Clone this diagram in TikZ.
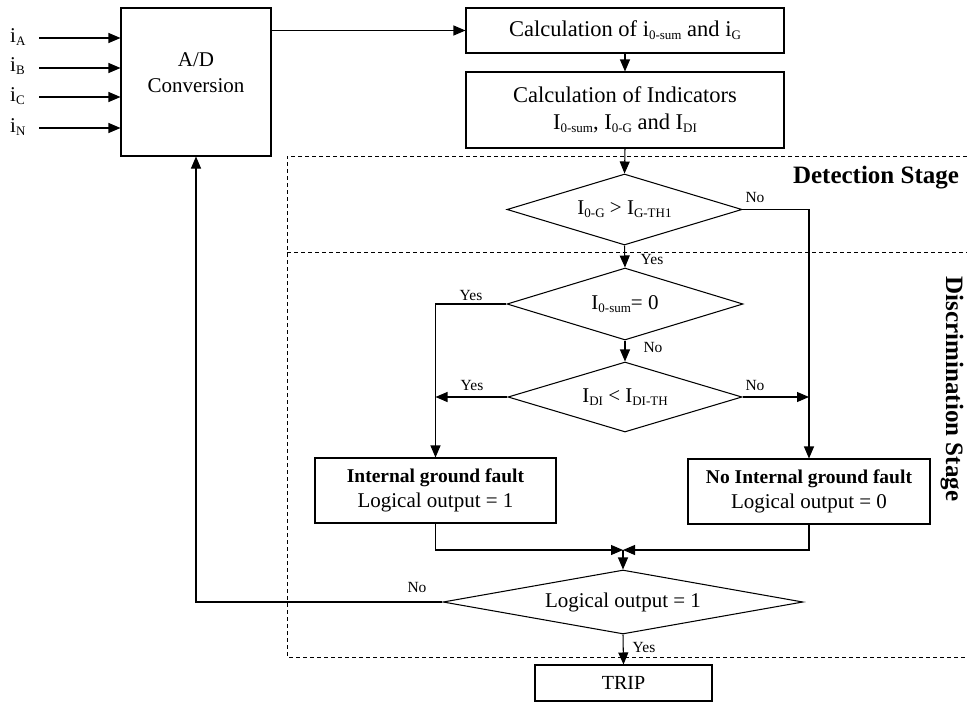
\documentclass[tikz,border=0pt]{standalone}
\usepackage{fontspec}
\setmainfont{Liberation Serif}
\usetikzlibrary{shapes.geometric,arrows.meta}
\newcommand{\sbs}[1]{\raisebox{-0.3ex}{\fontsize{13}{13}\selectfont #1}}
\begin{document}
\begin{tikzpicture}[x=1pt,y=-1pt,
  box/.style={draw,line width=1.05pt,inner sep=0pt,align=center,font=\fontsize{21}{26}\selectfont},
  txt/.style={inner sep=0pt,align=center,font=\fontsize{21}{26}\selectfont},
  dia/.style={diamond,draw,line width=1.05pt,inner sep=0pt,font=\fontsize{21}{26}\selectfont},
  arr/.style={line width=1.05pt,-{Triangle[length=12pt,width=10pt]}},
  lbl/.style={font=\fontsize{15.5}{18}\selectfont,inner sep=0pt},
  inp/.style={font=\fontsize{21}{24}\selectfont,inner sep=0pt,anchor=west},
  dsh/.style={line width=0.8pt,dash pattern=on 4pt off 3pt},
  stage/.style={font=\bfseries\fontsize{25}{30}\selectfont,inner sep=0pt}]

\useasboundingbox (0,0) rectangle (967,702);

% boxes
\node[box,minimum width=150pt,minimum height=148pt] (ad) at (196,82) {};
\node[txt] (adtxt) at (196,73) {A/D\\Conversion};
\node[box,minimum width=318pt,minimum height=45pt,font=\fontsize{22.5}{27}\selectfont] (c1) at (625,30.5) {Calculation of i\sbs{0-sum} and i\sbs{G}};
\node[box,minimum width=318pt,minimum height=76pt,font=\fontsize{22.5}{27}\selectfont] (c2) at (625,110) {Calculation of Indicators\\I\sbs{0-sum}, I\sbs{0-G} and I\sbs{DI}};

\node[dia,minimum width=235pt,minimum height=71pt,aspect=3.3] (d1) at (624.5,209.5) {I\sbs{0-G} > I\sbs{G-TH1}};
\node[dia,minimum width=236pt,minimum height=72pt,aspect=3.3] (d2) at (625,304) {I\sbs{0-sum}= 0};
\node[dia,minimum width=234pt,minimum height=70pt,aspect=3.3] (d3) at (625,397) {I\sbs{DI} < I\sbs{DI-TH}};

\node[box,minimum width=241pt,minimum height=65pt,font=\fontsize{21}{25}\selectfont] (ig) at (435.5,490.5) {{\bfseries\fontsize{19.5}{25}\selectfont Internal ground fault}\\Logical output = 1};
\node[box,minimum width=242pt,minimum height=65pt,font=\fontsize{21}{25}\selectfont] (nig) at (809,491.5) {{\bfseries\fontsize{19.5}{25}\selectfont No Internal ground fault}\\Logical output = 0};

\node[dia,minimum width=360pt,minimum height=64pt,aspect=5.6] (d4) at (623,602) {Logical output = 1};
\node[box,minimum width=177pt,minimum height=36pt,font=\fontsize{20}{24}\selectfont] (trip) at (623.5,683) {TRIP};

% inputs
\node[inp] (iA) at (10,37) {i\sbs{A}};
\node[inp] (iB) at (10,66) {i\sbs{B}};
\node[inp] (iC) at (10,96) {i\sbs{C}};
\node[inp] (iN) at (10,127) {i\sbs{N}};
\coordinate (sA) at (39,38);
\coordinate (sB) at (39,68);
\coordinate (sC) at (39,97);
\coordinate (sN) at (39,128);
\draw[arr] (sA) -- (sA -| ad.west);
\draw[arr] (sB) -- (sB -| ad.west);
\draw[arr] (sC) -- (sC -| ad.west);
\draw[arr] (sN) -- (sN -| ad.west);

% dashed stage frames
\coordinate (f1) at (287,156);
\coordinate (f2) at (967,156);
\coordinate (f3) at (287,657);
\coordinate (f4) at (967,657);
\coordinate (f5) at (287,252);
\coordinate (f6) at (967,252);
\draw[dsh] (f2) -- (f1) -- (f3) -- (f4);
\draw[dsh] (f5) -- (f6);
\node[stage] (det) at (876,178) {Detection Stage};
\node[stage,rotate=-90] (dis) at (952,389) {Discrimination Stage};

% connectors
\draw[arr] (ad.east |- c1.west) -- (c1.west);
\draw[arr] (c1.south) -- (c2.north);
\draw[arr] (c2.south) -- (d1.north);
\draw[arr] (d1.south) -- (d2.north);
\draw[arr] (d1.east) -| (nig.north);
\draw[arr] (d2.south) -- (d3.north);
\draw[arr] (d2.west) -| (ig.north);
\draw[arr] (d3.west) -- (d3.west -| ig.north);
\draw[arr] (d3.east) -- (d3.east -| nig.north);
\coordinate (m) at (623,550);
\draw[arr] (ig.south) |- (m);
\draw[arr] (nig.south) |- (m);
\draw[arr] (m) -- (d4.north);
\draw[arr] (d4.west) -| (ad.south);
\draw[arr] (d4.south) -- (trip.north);

% labels
\node[lbl] (l1) at (652,259) {Yes};
\node[lbl] (l2) at (755,197) {No};
\node[lbl] (l3) at (471,295) {Yes};
\node[lbl] (l4) at (653,347) {No};
\node[lbl] (l5) at (472,385) {Yes};
\node[lbl] (l6) at (755,385) {No};
\node[lbl] (l7) at (417,587) {No};
\node[lbl] (l8) at (644,647) {Yes};
\end{tikzpicture}
\end{document}
